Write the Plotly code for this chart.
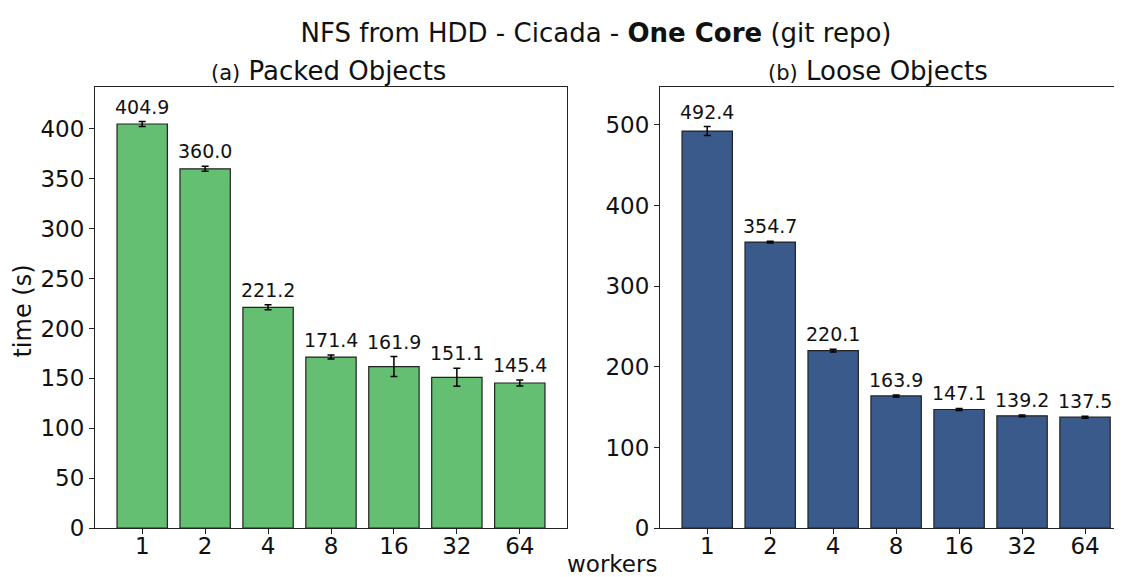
"""NFS from HDD - Cicada - one core, packed vs loose objects."""
import plotly.graph_objects as go

workers = ['1', '2', '4', '8', '16', '32', '64']

packed_time = [404.9, 360.0, 221.2, 171.4, 161.9, 151.1, 145.4]
packed_err = [2.5, 2.5, 2.5, 2.0, 10.0, 9.0, 3.0]

loose_time = [492.4, 354.7, 220.1, 163.9, 147.1, 139.2, 137.5]
loose_err = [5.5, 1.0, 1.8, 1.3, 1.3, 1.0, 1.3]

GREEN = '#64bf73'
BLUE = '#3a5a8c'
FONT = 'DejaVu Sans'
OFF = 8          # page body margin
SY = 589 / 577   # screenshot squeezes the page a little vertically
W, H = 1122 - 2 * OFF, 581


def px_x(p):
    return (p - OFF) / W


def px_y(p):
    return 1 - (p * SY - OFF) / H


fig = go.Figure()

fig.add_trace(go.Bar(
    x=workers, y=packed_time, width=0.8,
    marker=dict(color=GREEN, line=dict(color='#222222', width=1.2)),
    error_y=dict(type='data', array=packed_err, color='black', thickness=1.5, width=3.5),
    xaxis='x', yaxis='y', showlegend=False,
))
fig.add_trace(go.Bar(
    x=workers, y=loose_time, width=0.8,
    marker=dict(color=BLUE, line=dict(color='#222222', width=1.2)),
    error_y=dict(type='data', array=loose_err, color='black', thickness=1.5, width=3.5),
    xaxis='x2', yaxis='y2', showlegend=False,
))

annotations = []
for i, (v, e) in enumerate(zip(packed_time, packed_err)):
    annotations.append(dict(x=i, y=v + e, xref='x', yref='y', text=f'{v:.1f}',
                            showarrow=False, xanchor='center', yanchor='bottom', yshift=2,
                            font=dict(size=19, color='#111')))
for i, (v, e) in enumerate(zip(loose_time, loose_err)):
    annotations.append(dict(x=i, y=v + e, xref='x2', yref='y2', text=f'{v:.1f}',
                            showarrow=False, xanchor='center', yanchor='bottom', yshift=2,
                            font=dict(size=19, color='#111')))


def label(text, x, y, size, angle=0):
    return dict(x=px_x(x), y=px_y(y), xref='paper', yref='paper', text=text,
                showarrow=False, xanchor='center', yanchor='middle', textangle=angle,
                font=dict(size=size, color='#111'))


annotations += [
    label('<span style="font-size:21px">(a)</span> Packed Objects', 328, 71, 26),
    label('<span style="font-size:21px">(b)</span> Loose Objects', 878, 71, 26),
    label('workers', 612, 565, 23),
    label('time (s)', 23, 312, 24, angle=-90),
]

axis_common = dict(showgrid=False, zeroline=False, showline=True, linecolor='#222',
                   linewidth=1, ticks='outside', ticklen=5, tickwidth=1, tickcolor='#222',
                   tickfont=dict(size=23, color='#111'))

fig.update_layout(
    width=W, height=H,
    margin=dict(l=0, r=0, t=0, b=0),
    plot_bgcolor='white', paper_bgcolor='white',
    font=dict(family=FONT, color='#111'),
    title=dict(text='NFS from HDD - Cicada - <b>One Core</b> (git repo)',
               x=px_x(596), y=px_y(32), xanchor='center', yanchor='middle',
               font=dict(size=26, color='#111')),
    xaxis=dict(domain=[px_x(95), px_x(567)], range=[-0.75, 6.75], mirror=True,
               anchor='y', ticklabelstandoff=-8, **axis_common),
    yaxis=dict(domain=[px_y(529), px_y(87)], range=[0, 442], dtick=50, mirror=True,
               anchor='x', **axis_common),
    xaxis2=dict(domain=[px_x(660), 1.0], range=[-0.75, 6.46], mirror=True,
                anchor='y2', ticklabelstandoff=-8, **axis_common),
    yaxis2=dict(domain=[px_y(529), px_y(87)], range=[0, 547], dtick=100,
                anchor='x2', **axis_common),
    annotations=annotations,
)

fig.write_html('out.html')
